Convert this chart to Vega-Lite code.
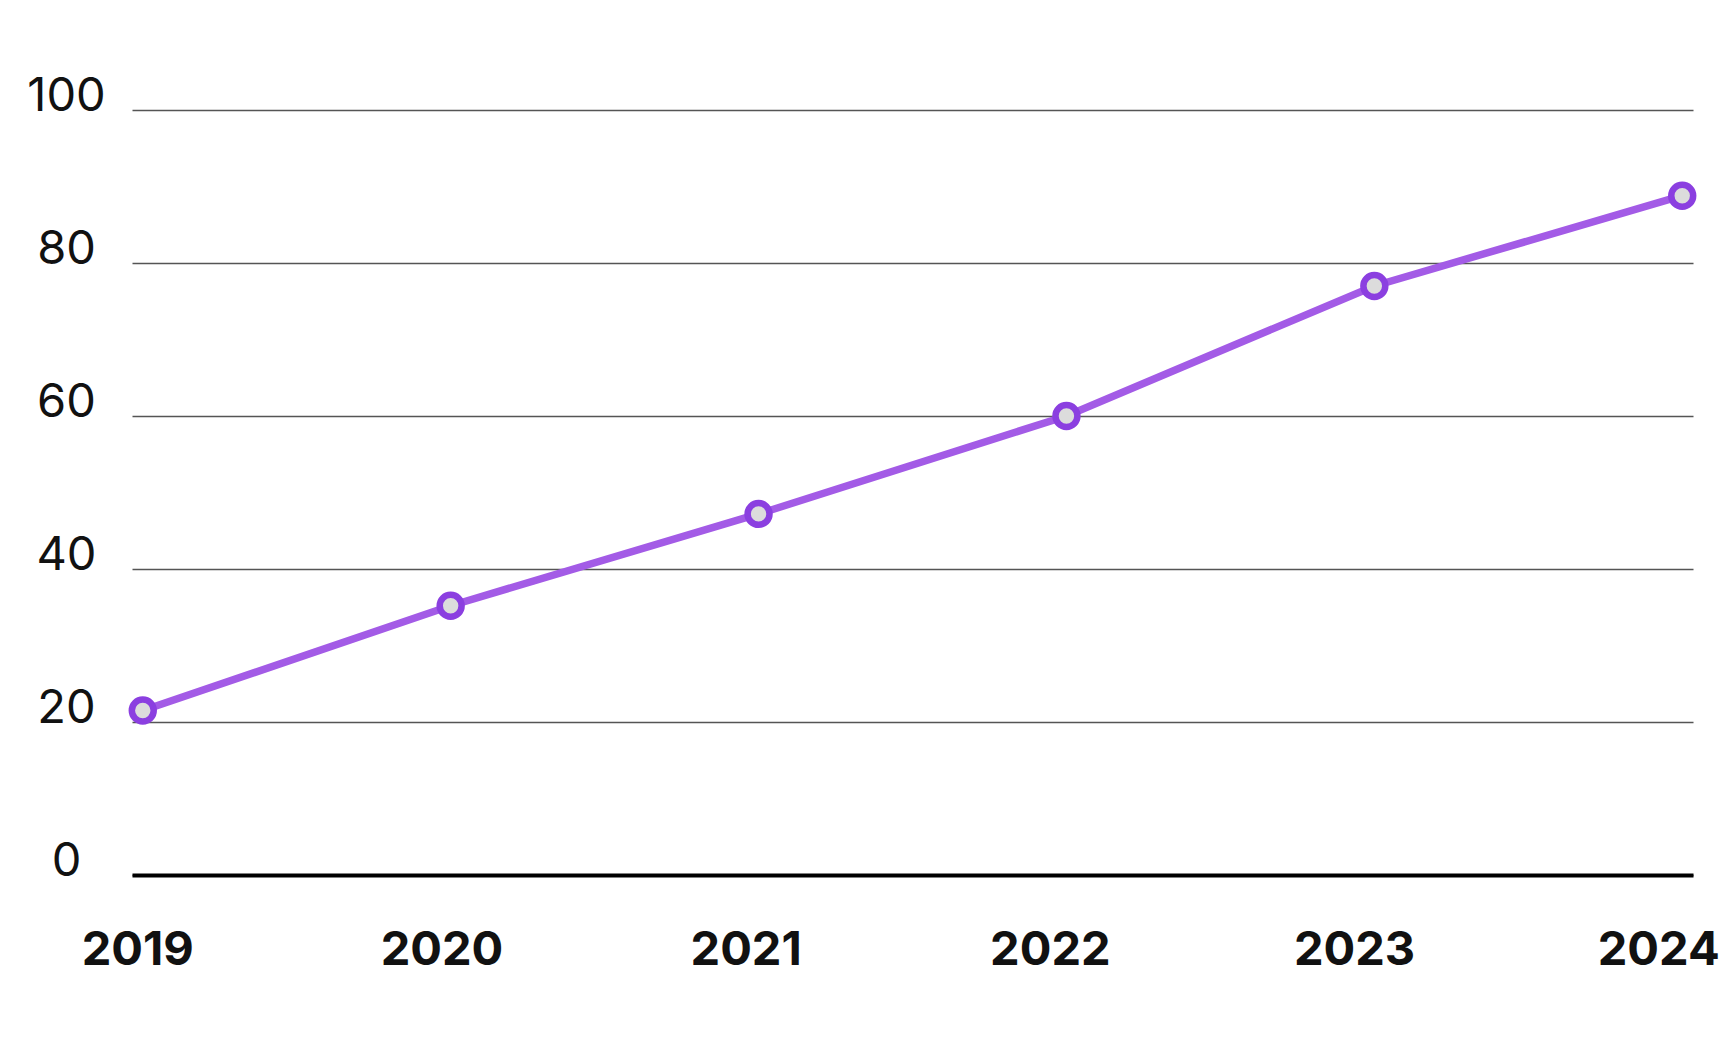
{
  "$schema": "https://vega.github.io/schema/vega-lite/v6.json",
  "width": 1561,
  "height": 765,
  "autosize": {"type": "none"},
  "padding": {"left": 132, "top": 110, "right": 43, "bottom": 163},
  "background": "white",
  "config": {"view": {"stroke": null}, "font": "Inter"},
  "data": {"values": [
    {"year": "2019", "value": 21.5},
    {"year": "2020", "value": 35.2},
    {"year": "2021", "value": 47.2},
    {"year": "2022", "value": 60},
    {"year": "2023", "value": 77},
    {"year": "2024", "value": 88.8}
  ]},
  "encoding": {
    "x": {
      "field": "year", "type": "ordinal",
      "scale": {"type": "point", "padding": 0.035},
      "axis": {
        "title": null, "labelAngle": 0, "ticks": false, "tickSize": 0,
        "domain": true, "domainColor": "#000000", "domainWidth": 4,
        "labelFont": "Inter", "labelFontSize": 47, "labelFontWeight": "bold",
        "labelColor": "#111111", "labelBaseline": "alphabetic",
        "labelPadding": 89,
        "labelOffset": {"expr": "-5.5 - 3.7 * (toNumber(datum.value) - 2019)"},
        "grid": false
      }
    },
    "y": {
      "field": "value", "type": "quantitative",
      "scale": {"domain": [0, 100], "nice": false},
      "axis": {
        "title": null, "values": [0, 20, 40, 60, 80, 100],
        "ticks": false, "tickSize": 0, "domain": false,
        "grid": true, "gridColor": "#555555", "gridWidth": 1.5,
        "labelFont": "Inter", "labelFontSize": 47, "labelFontWeight": "normal",
        "labelColor": "#111111", "labelAlign": "center", "labelBaseline": "alphabetic",
        "labelPadding": 66
      }
    }
  },
  "layer": [
    {"mark": {"type": "line", "stroke": "#a35be6", "strokeWidth": 7.5}},
    {"mark": {"type": "point", "filled": true, "fill": "#dcdcdc", "stroke": "#8b3fe0", "strokeWidth": 6.5, "size": 480, "opacity": 1}}
  ]
}
